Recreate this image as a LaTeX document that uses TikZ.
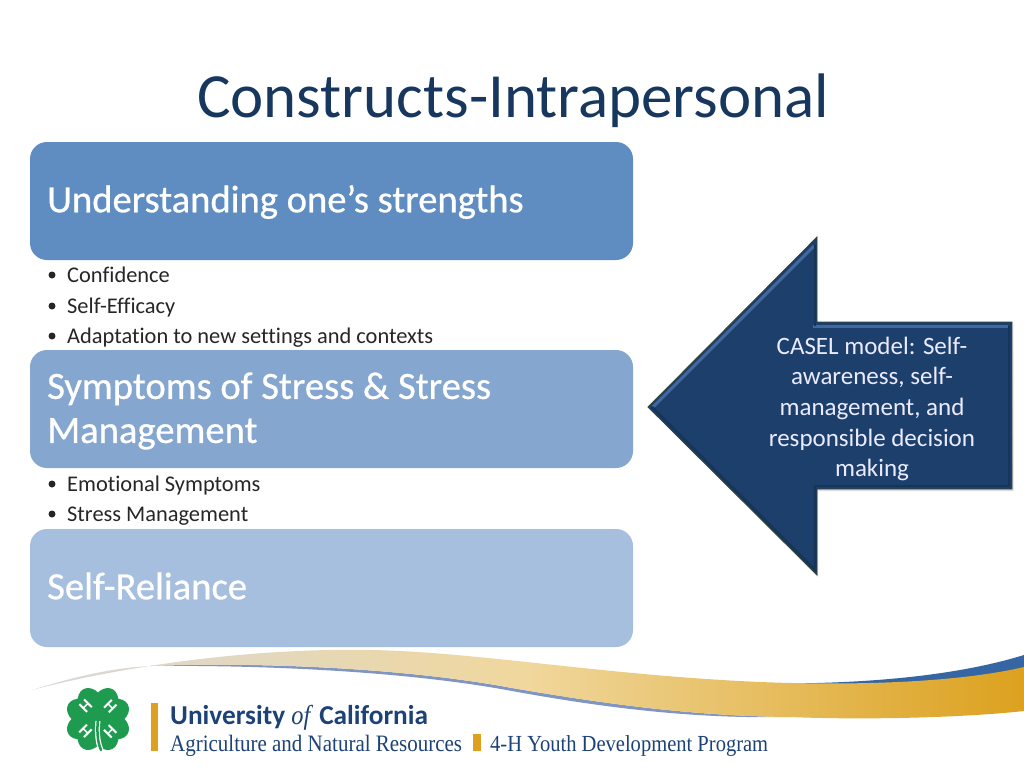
\documentclass[tikz,border=0pt]{standalone}
\usepackage{fontspec}
\setmainfont[Ligatures=NoCommon]{Carlito}
\newfontfamily\headfont[FakeBold=0.7, Ligatures=NoCommon]{Carlito}
\newfontfamily\logoserif[FakeStretch=0.893]{Liberation Serif}
\usetikzlibrary{
	positioning				% relative placement
	, calc
}
\definecolor{titleblue}{HTML}{17375E}
\definecolor{boxone}{HTML}{5F8DC1}
\definecolor{boxtwo}{HTML}{85A6CF}
\definecolor{boxthree}{HTML}{A6BFDE}
\definecolor{arrowblue}{HTML}{1D3F6C}
\definecolor{arrowlight}{HTML}{41699F}
\definecolor{arrowdark}{HTML}{132C4C}
\definecolor{swooshblue}{HTML}{3566A3}
\definecolor{swooshgrey}{HTML}{8095C2}
\definecolor{swooshgold}{HTML}{DCA11E}
\definecolor{swooshpale}{HTML}{F0D79C}
\definecolor{clover}{HTML}{1F9B50}
\definecolor{logoblue}{HTML}{1D4278}
\definecolor{logogold}{HTML}{DDA11F}
\tikzset{
	headbox/.style={rounded corners=17pt, draw=none},
	headtext/.style={anchor=west, text=white, font=\headfont\fontsize{38.6}{44}\selectfont, align=left, inner sep=0},
	itemtext/.style={anchor=base west, text=black!85, font=\fontsize{22.4}{26}\selectfont, inner sep=0},
	bulletdot/.style={circle, fill=black!85, inner sep=0, minimum size=7pt},
	leaf/.style={fill=clover, draw=none},
	leafmark/.style={text=white, font=\bfseries\fontsize{17}{17}\selectfont, inner sep=0}
}
\begin{document}
\begin{tikzpicture}[x=1pt, y=-1pt]
	\useasboundingbox (0, 0) rectangle (1024, 768);
	\fill[white] (0, 0) rectangle (1024, 768);

	% Title
	\node[anchor=base west, text=titleblue, inner sep=0, font=\fontsize{62.9}{70}\selectfont] (title) at (197, 117) {Constructs-Intrapersonal};

	%% Boxes
	\fill[headbox, boxone] (30, 142) rectangle (633, 260);
	\fill[headbox, boxtwo] (30, 350) rectangle (633, 468);
	\fill[headbox, boxthree] (30, 529) rectangle (633, 647);
	\node[headtext] (strengths) at (47, 202) {Understanding one’s strengths};
	\node[headtext] (stress) at (47, 411) {Symptoms of Stress \& Stress\\Management};
	\node[headtext] (reliance) at (47, 586) {Self-Reliance};

	%% Lists
	\foreach \y/\t/\n in {275/Confidence/confidence, 306/Self-Efficacy/efficacy, 336/Adaptation to new settings and contexts/adaptation, 484/Emotional Symptoms/emotional, 514/Stress Management/management} {
		\node[bulletdot] (dot\n) at (52, \y) {};
		\node[itemtext] (\n) at (67, \y + 7) {\t};
	}

	%% Arrow
	\coordinate (tip) at (648, 407);
	\coordinate (headtop) at (817, 237);
	\coordinate (neckup) at (817, 322);
	\coordinate (cornerup) at (1012, 322);
	\coordinate (cornerdown) at (1012, 489);
	\coordinate (neckdown) at (817, 489);
	\coordinate (headdown) at (817, 575);
	\fill[black!25, opacity=.5] ($(tip)+(1,1.5)$) -- ($(headdown)+(1,2)$) -- ($(neckdown)+(1,2)$) -- ($(cornerdown)+(1.5,2)$) -- ($(cornerup)+(1.5,0)$) -- (cornerdown) -- cycle;
	\draw[fill=arrowblue, draw=arrowdark!70!olive, line width=.8pt] (tip) -- (headtop) -- (neckup) -- (cornerup) -- (cornerdown) -- (neckdown) -- (headdown) -- cycle;
	\draw[arrowlight, line width=3pt] (653, 407) -- (814, 246);
	\draw[arrowlight, line width=3pt] (813, 326) -- (1008, 326);
	\draw[arrowdark!60!arrowblue, line width=2.5pt] (1009, 326) -- (1009, 486) -- (814, 486);
	\draw[arrowdark!60!arrowblue, line width=2.5pt] (652, 407) -- (815, 570) -- (815, 486);
	\draw[arrowdark!60!arrowblue, line width=2.5pt] (815, 326) -- (815, 245);
	\node[text=white!92!blue, align=center, inner sep=0, font=\fontsize{25}{30.7}\selectfont] (casel) at (872, 409) {CASEL model: Self-\\awareness, self-\\management, and\\responsible decision\\making};

	%% Swoosh
	\fill[swooshblue] (700, 682) .. controls (800, 686) and (930, 684) .. (1024, 655) -- (1024, 670) .. controls (950, 686) and (850, 690) .. (700, 684) -- cycle;
	\fill[swooshgrey] (150, 666) .. controls (250, 662) and (400, 667) .. (512, 688) .. controls (600, 703) and (690, 716) .. (790, 717) .. controls (690, 719) and (600, 707) .. (512, 691) .. controls (400, 670) and (250, 665) .. (150, 666) -- cycle;
	\shade[left color=black!15, right color=swooshgold, middle color=swooshpale] (32, 690) .. controls (140, 662) and (280, 645) .. (400, 651) .. controls (500, 656) and (620, 676) .. (760, 682) .. controls (860, 686) and (960, 682) .. (1024, 667) -- (1024, 711) .. controls (960, 718) and (860, 720) .. (790, 717) .. controls (690, 716) and (600, 703) .. (512, 688) .. controls (400, 667) and (250, 662) .. (150, 666) .. controls (110, 668) and (70, 678) .. cycle;

	%% Clover
	\begin{scope}[shift={(98, 719)}]
		\foreach \a/\n in {45/one, 135/two, 225/three, 315/four} {
			\begin{scope}[rotate=\a, scale=1.25]
				\fill[leaf] (0, 0) .. controls (3, -9) and (8, -15) .. (15, -15) .. controls (23, -15) and (29, -8) .. (23, 0) .. controls (29, 8) and (23, 15) .. (15, 15) .. controls (8, 15) and (3, 9) .. cycle;
				\node[leafmark, rotate=\a+90] (mark\n) at (14, 0) {H};
			\end{scope}
		}
		\draw[white, line width=5pt] (0, 2) .. controls (-1, 10) and (-1, 22) .. (3, 31);
		\draw[clover, line width=2.5pt, line cap=round] (0, 0) .. controls (-1, 10) and (-1, 22) .. (3, 31);
	\end{scope}

	%% Logo
	\fill[logogold] (151, 703) rectangle (158, 751);
	\fill[logogold] (473, 734) rectangle (481, 751);
	\node[anchor=base west, inner sep=0, text=logoblue, font=\bfseries\fontsize{27.3}{30}\selectfont] (university) at (170, 724) {University \textit{\logoserif\mdseries of} California};
	\node[anchor=base west, inner sep=0, text=logoblue, font=\logoserif\fontsize{23.5}{26}\selectfont] (agriculture) at (170, 751) {Agriculture and Natural Resources};
	\node[anchor=base west, inner sep=0, text=logoblue, font=\logoserif\fontsize{23}{26}\selectfont] (youth) at (490, 751) {4-H Youth Development Program};
\end{tikzpicture}
\end{document}
